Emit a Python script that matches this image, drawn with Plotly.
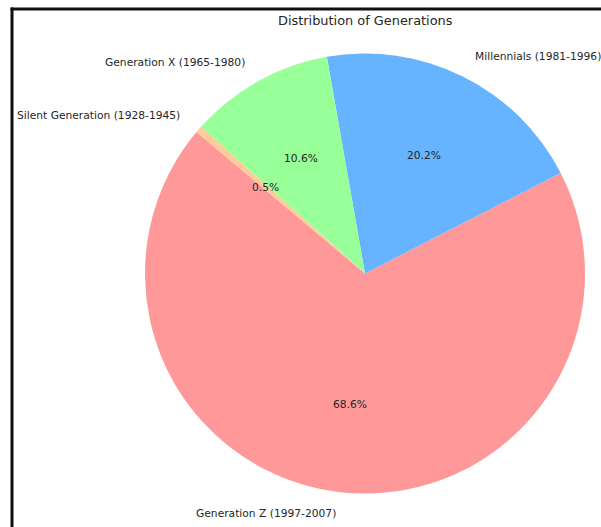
import math
import plotly.graph_objects as go

# Share of each generation (percent), listed in drawing order
labels = [
    "Generation Z (1997-2007)",
    "Millennials (1981-1996)",
    "Generation X (1965-1980)",
    "Silent Generation (1928-1945)",
]
shares = [68.6, 20.2, 10.6, 0.5]
colors = ["#ff9999", "#66b3ff", "#99ff99", "#ffcc99"]

W, H = 601, 527
CX, CY, R = 365, 273.5, 220       # pie centre and radius in pixels
START = 140                      # first wedge starts here (degrees, ccw from 3 o'clock)
FONT = "DejaVu Sans"
TXT = "#262626"

total = sum(shares)

# plotly's counter-clockwise layout ends the first slice at `rotation`
# (measured clockwise from 12 o'clock)
boundary = START + 360 * shares[0] / total
rot = (90 - boundary) % 360
if rot > 180:
    rot -= 360

fig = go.Figure(
    go.Pie(
        labels=labels,
        values=shares,
        sort=False,
        direction="counterclockwise",
        rotation=rot,
        marker=dict(colors=colors, line=dict(width=0)),
        textinfo="none",
        hoverinfo="label+value",
        showlegend=False,
        domain=dict(
            x=[(CX - R) / W, (CX + R) / W],
            y=[1 - (CY + R) / H, 1 - (CY - R) / H],
        ),
    )
)


def to_paper(frac, ang_deg):
    a = math.radians(ang_deg)
    px = CX + frac * R * math.cos(a)
    py = CY - frac * R * math.sin(a)
    return px / W, 1 - py / H, math.cos(a)


annotations = []
theta = START
for name, v in zip(labels, shares):
    span = 360 * v / total
    mid = theta + span / 2
    # category label just outside the rim
    x, y, c = to_paper(1.1, mid)
    annotations.append(dict(
        x=x, y=y, xref="paper", yref="paper", text=name, showarrow=False,
        xanchor="left" if c > 0 else "right", yanchor="middle",
        font=dict(family=FONT, size=10.7, color=TXT),
    ))
    # percentage inside the wedge
    x, y, _ = to_paper(0.6, mid)
    annotations.append(dict(
        x=x, y=y, xref="paper", yref="paper", text=f"{v:.1f}%", showarrow=False,
        xanchor="center", yanchor="middle",
        font=dict(family=FONT, size=10.7, color=TXT),
    ))
    theta += span

# chart title
annotations.append(dict(
    x=CX / W, y=1 - 21 / H, xref="paper", yref="paper",
    text="Distribution of Generations", showarrow=False,
    xanchor="center", yanchor="middle",
    font=dict(family=FONT, size=12.9, color=TXT),
))

# frame edges: left and top only
frame = dict(color="#111111", width=3)
left_x = 12 / W
top_y = 1 - 9 / H
shapes = [
    dict(type="line", xref="paper", yref="paper",
         x0=left_x, x1=left_x, y0=0, y1=top_y + 1.5 / H, line=frame),
    dict(type="line", xref="paper", yref="paper",
         x0=left_x - 1.5 / W, x1=1.0, y0=top_y, y1=top_y, line=frame),
]

fig.update_layout(
    width=W, height=H,
    margin=dict(l=0, r=0, t=0, b=0),
    paper_bgcolor="white",
    plot_bgcolor="white",
    annotations=annotations,
    shapes=shapes,
)

fig.write_html("out.html", config={"displayModeBar": False})
